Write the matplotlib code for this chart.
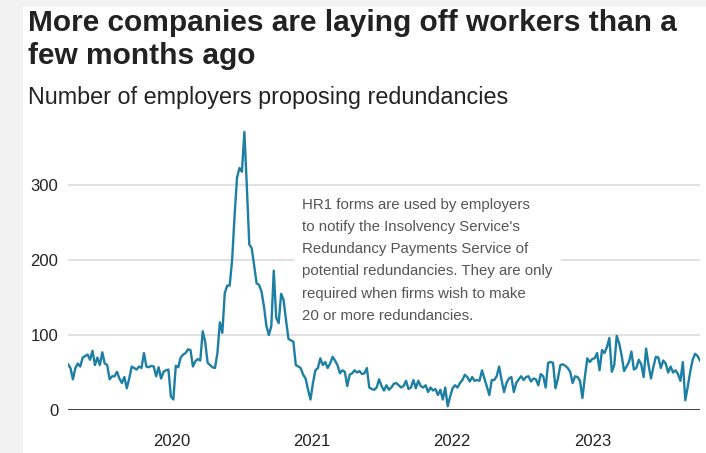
import numpy as np
import pandas as pd
import matplotlib.pyplot as plt

# Weekly count of employers filing HR1 forms, April 2019 - October 2023
START = "2019-04-07"
END = "2023-10-08"
VALUES = [
    61, 56, 41, 56, 62, 58, 70, 72, 74, 67, 79, 60, 70, 60, 77, 62, 60, 41, 45, 45,
    51, 42, 36, 44, 29, 42, 58, 56, 54, 58, 56, 76, 58, 57, 59, 58, 45, 57, 42, 51,
    53, 54, 18, 14, 59, 57, 70, 74, 76, 81, 80, 58, 65, 68, 66, 105, 91, 63, 60, 57,
    56, 76, 117, 103, 156, 166, 166, 200, 259, 310, 323, 318, 371, 299, 221, 216, 192, 169, 167, 158,
    138, 112, 100, 112, 186, 123, 116, 155, 147, 120, 95, 93, 91,
    60, 58, 56, 47, 42, 27, 14, 36, 53, 56, 69, 60, 64, 56, 62, 71, 66, 60, 49, 53,
    51, 32, 47, 49, 53, 50, 52, 48, 49, 56, 30, 28, 27, 30, 41, 32, 26, 33, 27, 30,
    35, 36, 33, 30, 32, 39, 28, 30, 40, 29, 39, 32, 30, 33, 24, 30, 26, 28, 20, 27,
    14, 30, 5, 18, 29, 33, 30, 36, 40, 47, 44, 38, 44, 39, 40, 39,
    53, 42, 31, 20, 40, 40, 45, 58, 40, 24, 36, 42, 44, 24, 36, 41, 45, 40, 44, 45,
    38, 42, 41, 33, 48, 45, 30, 63, 64, 63, 29, 42, 60, 61, 59, 56, 51, 36, 45, 44,
    39, 16, 44, 69, 64, 68, 69, 76, 53, 80, 76, 84, 96, 51, 60, 99, 89, 73, 52, 58,
    64, 78, 54, 56, 67, 61, 44, 82, 60, 42, 58, 71, 70, 56, 66, 62, 50, 58, 50, 53,
    48, 39, 64, 13, 31, 51, 67, 75, 72, 66,
]
Y_TICKS = [0, 100, 200, 300]
YEAR_TICKS = ["2020-01-01", "2021-01-01", "2022-01-01", "2023-01-01"]
YEAR_LABELS = ["2020", "2021", "2022", "2023"]

TITLE = "More companies are laying off workers than a\nfew months ago"
SUBTITLE = "Number of employers proposing redundancies"
NOTE = ("HR1 forms are used by employers\n"
        "to notify the Insolvency Service's\n"
        "Redundancy Payments Service of\n"
        "potential redundancies. They are only\n"
        "required when firms wish to make\n"
        "20 or more redundancies.")

LINE_COLOR = "#1d7fa3"
W, H = 706, 453

plt.rcParams["font.family"] = ["Liberation Sans", "DejaVu Sans"]

dates = pd.date_range(START, END, periods=len(VALUES))

fig = plt.figure(figsize=(W / 100, H / 100), dpi=100, facecolor="#f2f2f2")

# white card behind the chart
card = fig.add_axes([23 / W, 0, 1 - 23 / W, 1 - 7 / H], zorder=-10)
card.set_facecolor("white")
card.set_xticks([])
card.set_yticks([])
for s in card.spines.values():
    s.set_visible(False)

ax = fig.add_axes([68 / W, (H - 410) / H, (700 - 68) / W, (410 - 129) / H])
ax.set_facecolor("none")

ax.plot(dates, VALUES, color=LINE_COLOR, lw=1.7, zorder=4, solid_joinstyle="round")

ax.set_xlim(dates[0], dates[-1])
ax.set_ylim(0, 375)

for y in Y_TICKS[1:]:
    ax.axhline(y, color="#dcdcdc", lw=1.2, zorder=1)
ax.axhline(0, color="#333333", lw=2, zorder=5)

ax.set_yticks(Y_TICKS)
ax.set_yticklabels([str(t) for t in Y_TICKS])
ax.set_xticks(pd.to_datetime(YEAR_TICKS))
ax.set_xticklabels(YEAR_LABELS)
ax.tick_params(axis="y", length=0, pad=7, labelsize=12, labelcolor="#222222")
ax.tick_params(axis="x", length=0, pad=17, labelsize=12, labelcolor="#222222")
for s in ax.spines.values():
    s.set_visible(False)

ax.text(302 / W, 1 - 198 / H, NOTE, transform=fig.transFigure, ha="left", va="top",
        fontsize=10.8, color="#555555", linespacing=1.74, zorder=3,
        bbox=dict(facecolor="white", edgecolor="none", pad=6))

fig.text(28 / W, 1 - 9 / H, TITLE, ha="left", va="top", fontsize=21.5,
         fontweight="bold", color="#222222", linespacing=1.22)
fig.text(28 / W, 1 - 86 / H, SUBTITLE, ha="left", va="top", fontsize=16.8,
         color="#222222")

fig.savefig("out.png", dpi=100, facecolor=fig.get_facecolor())
